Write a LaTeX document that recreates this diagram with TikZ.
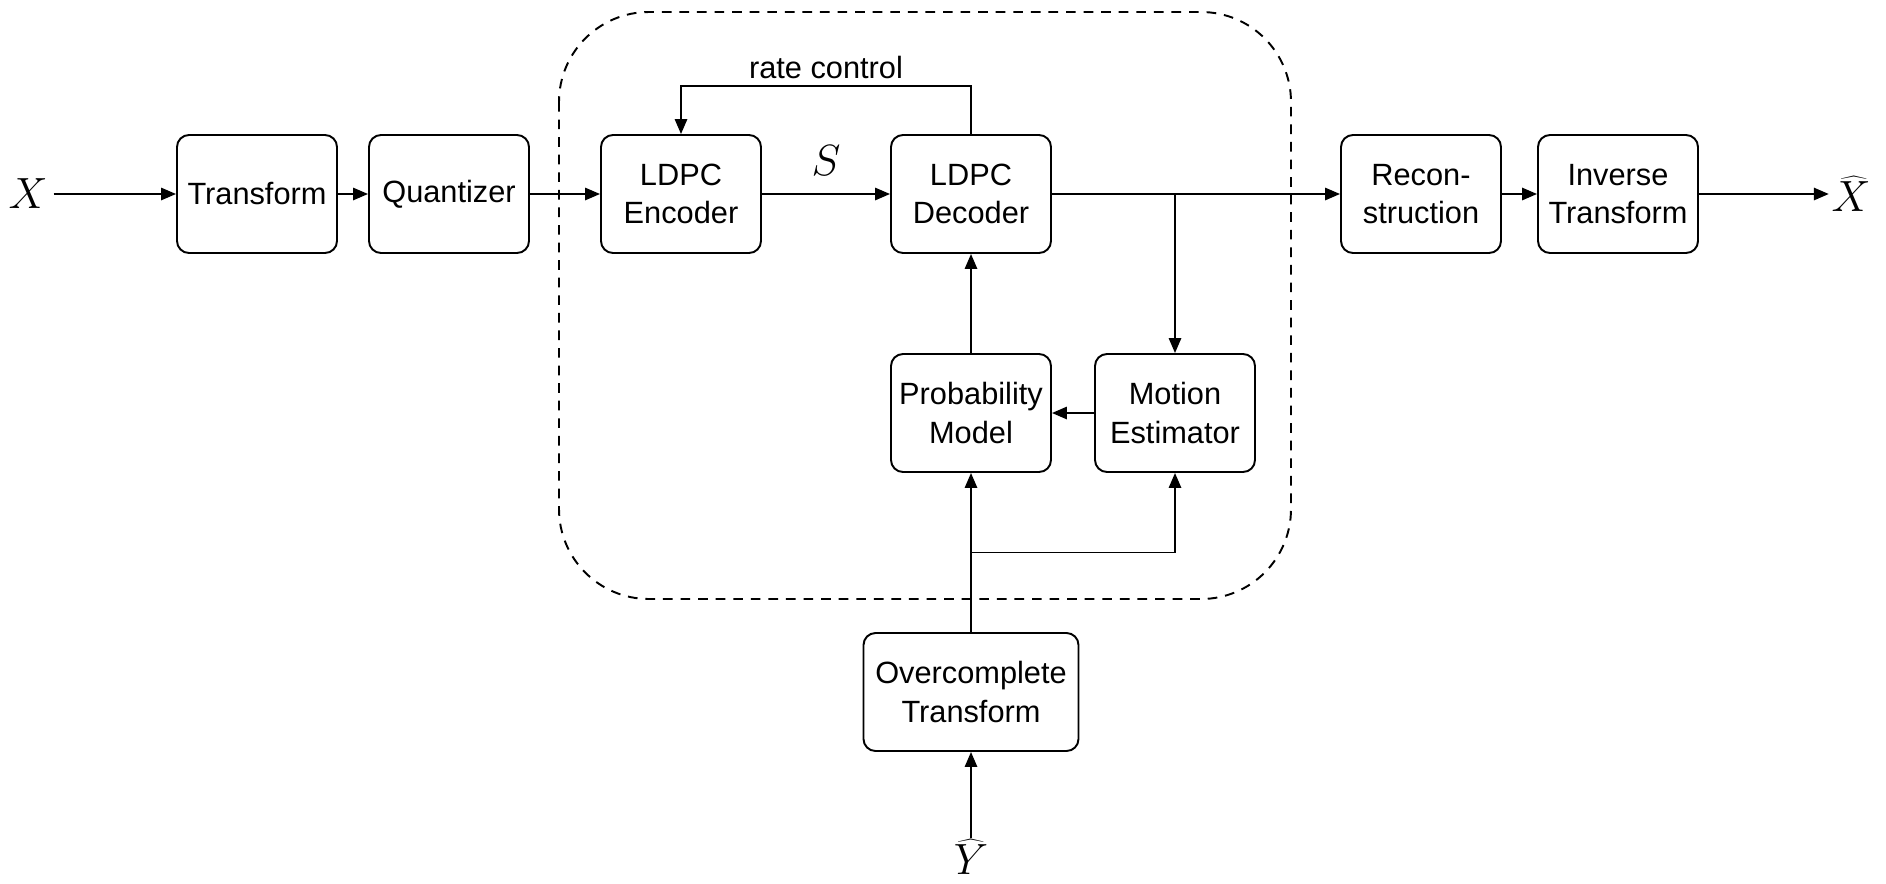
\documentclass[tikz,border=0pt]{standalone}
\usepackage{fontspec}
\setmainfont{Liberation Sans}
\usetikzlibrary{arrows.meta, positioning}

\tikzset{
  block/.style = {draw, rounded corners=0.24cm, minimum width=3.2cm,
                  minimum height=2.36cm, align=center},
  sig/.style   = {font=\fontsize{23}{26}\selectfont, inner sep=3pt},
}

\begin{document}
\begin{tikzpicture}[line width=1.1pt, >={Triangle[length=8.5pt, width=7pt]},
    font=\fontsize{17.5}{22}\selectfont, node distance=3.84cm, on grid]
  \useasboundingbox (0,0) rectangle (37.72,-17.66);

  % main chain
  \node[block] (tf) at (5.14,-3.88) {Transform};
  \node[block] (quant) [right=of tf] {Quantizer};
  \node[block] (enc) [right=4.64cm of quant] {LDPC\\Encoder};
  \node[block] (dec) [right=5.8cm of enc] {LDPC\\Decoder};
  \node[block] (rec) [right=9cm of dec] {Recon-\\struction};
  \node[block] (inv) [right=3.94cm of rec] {Inverse\\Transform};

  % side information
  \node[block] (prob) [below=4.38cm of dec] {Probability\\Model};
  \node[block] (mot) [right=4.08cm of prob] {Motion\\Estimator};
  \node[block, minimum width=4.3cm] (oct) [below=5.58cm of prob] {Overcomplete\\Transform};

  \node[sig] (x) [left=4.58cm of tf] {$X$};
  \node[sig, inner sep=1pt] (xhat) [right=4.66cm of inv] {$\widehat{X}$};
  \node[sig, inner sep=0pt] (yhat) [below=3.3cm of oct] {$\widehat{Y}$};

  % decoder side
  \draw[dashed, dash pattern=on 5.5pt off 4.5pt, rounded corners=1.8cm]
    (11.18,-0.24) rectangle (25.82,-11.98);

  \path[->]
    (x) edge (tf)
    (tf) edge (quant)
    (quant) edge (enc)
    (enc) edge node[sig, above, yshift=7pt] {$S$} (dec)
    (dec) edge (rec)
    (rec) edge (inv)
    (inv) edge (xhat)
    (mot) edge (prob)
    (prob) edge (dec)
    (yhat) edge (oct);
  \draw[->] (dec.north) -- ++(0,0.96) -| node[pos=0.25, above] {rate control} (enc.north);
  \draw[->] (dec.east -| mot.north) -- (mot.north);
  \draw[->] (oct) -- coordinate (split) (prob);
  \draw[->] (split) -| (mot);
\end{tikzpicture}
\end{document}
